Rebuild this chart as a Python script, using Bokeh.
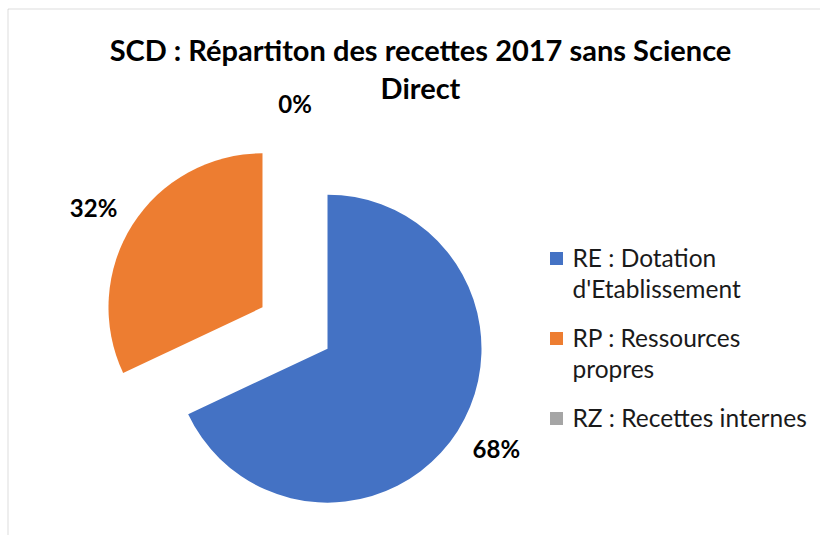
import numpy as np
from bokeh.plotting import figure
from bokeh.models import Range1d, BoxAnnotation, Label, ColumnDataSource
from bokeh.core.properties import value
from bokeh.embed import file_html
from bokeh.resources import INLINE

# ---- data ----
title_lines = ["SCD : Répartiton des recettes 2017 sans Science", "Direct"]
categories = ["RE : Dotation\nd'Etablissement", "RP : Ressources\npropres", "RZ : Recettes internes"]
values = [68, 32, 0]
colors = ["#4472C4", "#ED7D31", "#A5A5A5"]

# ---- layout ----
W, H = 820, 535
p = figure(width=W, height=H, x_range=Range1d(0, W), y_range=Range1d(0, H),
           output_backend="svg", toolbar_location=None, min_border=0)
p.axis.visible = False
p.grid.visible = False
p.outline_line_color = None
p.background_fill_color = "white"
p.border_fill_color = "white"

# chart frame (only top and left edges are inside the window)
p.add_layout(BoxAnnotation(left=7.5, top=526.5, right=W + 2, bottom=-2, fill_color=None,
                           fill_alpha=0, line_color="#8a8a8a", line_width=1))

# ---- pie geometry ----
vals = np.array(values, dtype=float)
frac = vals / vals.sum()
ends = np.cumsum(frac)
starts = ends - frac
start_ang = np.pi / 2 - 2 * np.pi * starts
end_ang = np.pi / 2 - 2 * np.pi * ends
mid = (start_ang + end_ang) / 2
cx0, cy0 = 294.5, 207.5
explode = 38.5
R = 154
cx = cx0 + explode * np.cos(mid)
cy = cy0 + explode * np.sin(mid)

nz = vals > 0
src = ColumnDataSource(dict(x=cx[nz], y=cy[nz], s=start_ang[nz], e=end_ang[nz],
                            c=[c for c, k in zip(colors, nz) if k]))
p.wedge(x="x", y="y", radius=R, start_angle="s", end_angle="e", direction="clock",
        fill_color="c", line_color=None, source=src)

# data labels
gap, hw, hh = 22, 24, 10
lx = cx + (R + gap) * np.cos(mid) + hw * np.cos(mid)
ly = cy + (R + gap) * np.sin(mid) + hh * np.sin(mid)
pct = [f"{int(round(f * 100))}%" for f in frac]
p.text(x=lx, y=ly, text=pct, text_font=value("Lato"), text_font_style="bold",
       text_font_size="24px", text_align="center", text_baseline="middle", text_color="#000000")

# title
for i, t in enumerate(title_lines):
    p.add_layout(Label(x=420, y=486 - 38 * i, text=t, text_font="Lato", text_font_style="bold",
                       text_font_size="29px", text_align="center", text_baseline="middle",
                       text_color="#000000"))

# legend
n = len(categories)
lgx = [556] * n
lgy = [277 - 80 * i for i in range(n)]
p.scatter(x=lgx, y=lgy, marker="square", size=13, fill_color=colors, line_color=None)
p.text(x=[572] * n, y=[yy + 16 for yy in lgy], text=categories, text_font=value("Lato"),
       text_font_size="24.5px", text_align="left", text_baseline="top", text_line_height=1.1,
       text_color="#1a1a1a")

open("out.html", "w").write(file_html(p, INLINE))
